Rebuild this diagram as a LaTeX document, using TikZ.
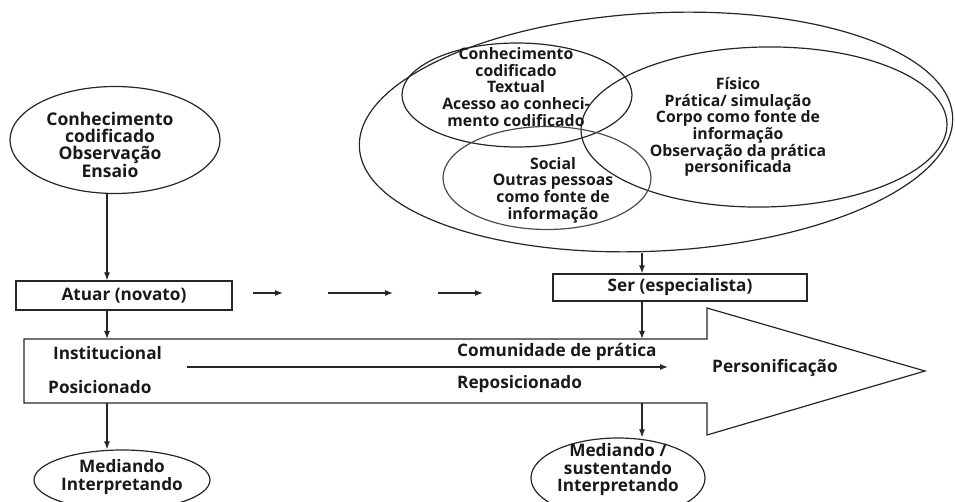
\documentclass[tikz,border=0pt]{standalone}
\usepackage{fontspec}
\setmainfont{Open Sans}
\usetikzlibrary{arrows.meta,shapes.geometric}
\begin{document}
\begin{tikzpicture}[x=1pt,y=-1pt,
  line/.style={line width=1.2pt, draw=black!85},
  arr/.style={line width=1.2pt, draw=black!85, -{Latex[length=8pt,width=6pt]}},
  ell/.style={line, ellipse, inner sep=0pt},
  box/.style={line, rectangle, inner sep=0pt},
  txt/.style={font=\bfseries\fontsize{17.2}{17.5}\selectfont, align=center, inner sep=0pt, text=black!90},
  sml/.style={font=\bfseries\fontsize{15.8}{16.6}\selectfont, align=center, inner sep=0pt, text=black!90},
  big/.style={font=\bfseries\fontsize{17.5}{16.8}\selectfont, align=center, inner sep=0pt, text=black!90},
]
\useasboundingbox (0,0) rectangle (955,502);

% left top ellipse
\node[ell, minimum width=210pt, minimum height=107pt] (elL) at (115,140) {};
\node[big] (tL) at (110,145) {Conhecimento\\codificado\\Observação\\Ensaio};

% top right group
\node[ell, minimum width=594pt, minimum height=238pt, rotate=3] (elO) at (656,132) {};
\node[ell, minimum width=230pt, minimum height=104pt] (elC) at (517,95) {};
\node[ell, minimum width=366pt, minimum height=160pt, rotate=1] (elF) at (764,127) {};
\node[ell, minimum width=208pt, minimum height=103pt, draw=black!70] (elS) at (547,178) {};
\node[sml] (tC) at (516,87) {Conhecimento\\codificado\\Textual\\Acesso ao conheci-\\mento codificado};
\node[sml] (tF) at (738,127) {Físico\\Prática/ simulação\\Corpo como fonte de\\informação\\Observação da prática\\personificada};
\node[sml] (tS) at (553,190) {Social\\Outras pessoas\\como fonte de\\informação};

% boxes
\node[box, minimum width=216pt, minimum height=29pt, txt] (atuar) at (124,295.5) {Atuar (novato)};
\node[box, minimum width=254pt, minimum height=27pt, txt] (ser) at (680,287.5) {Ser (especialista)};

% big arrow
\draw[line] (24,339) coordinate (bigTL) -- (707,339) -- (707,308) -- (925,371) coordinate (tip)
  -- (707,435) -- (707,403) -- (24,403) coordinate (bigBL) -- cycle;
\node[txt, anchor=west] (inst) at (53,353) {Institucional};
\node[txt, anchor=west] (posi) at (48,387) {Posicionado};
\node[txt, anchor=west] (comu) at (457,352) {Comunidade de prática};
\node[txt, anchor=west] (repo) at (457,384) {Reposicionado};
\node[txt] (pers) at (775,368) {Personificação};
\coordinate (inA) at (187,367);
\coordinate (inB) at (668,367);
\draw[arr] (inA) -- (inB);

% bottom ellipses
\node[ell, minimum width=176pt, minimum height=60pt] (elBL) at (122,480) {};
\node[txt] (tBL) at (122,477) {Mediando\\Interpretando};
\node[ell, minimum width=174pt, minimum height=80pt] (elBR) at (618,478) {};
\node[txt] (tBR) at (618,470) {Mediando /\\sustentando\\Interpretando};

% vertical connectors
\coordinate (cL) at (107,0);
\coordinate (cR) at (642,0);
\coordinate (oBot) at (0,253);
\draw[arr] (elL.south -| cL) -- (atuar.north -| cL);
\draw[arr] (atuar.south -| cL) -- (bigTL -| cL);
\draw[arr] (bigBL -| cL) -- (elBL.north -| cL);
\draw[arr] (oBot -| cR) -- (ser.north -| cR);
\draw[arr] (ser.south -| cR) -- (bigTL -| cR);
\draw[arr] (bigBL -| cR) -- (elBR.north -| cR);

% progression arrows
\coordinate (d1a) at (253,293); \coordinate (d1b) at (283,293);
\coordinate (d2a) at (328,293); \coordinate (d2b) at (393,293);
\coordinate (d3a) at (438,293); \coordinate (d3b) at (483,293);
\draw[arr] (d1a) -- (d1b);
\draw[arr] (d2a) -- (d2b);
\draw[arr] (d3a) -- (d3b);
\end{tikzpicture}
\end{document}
